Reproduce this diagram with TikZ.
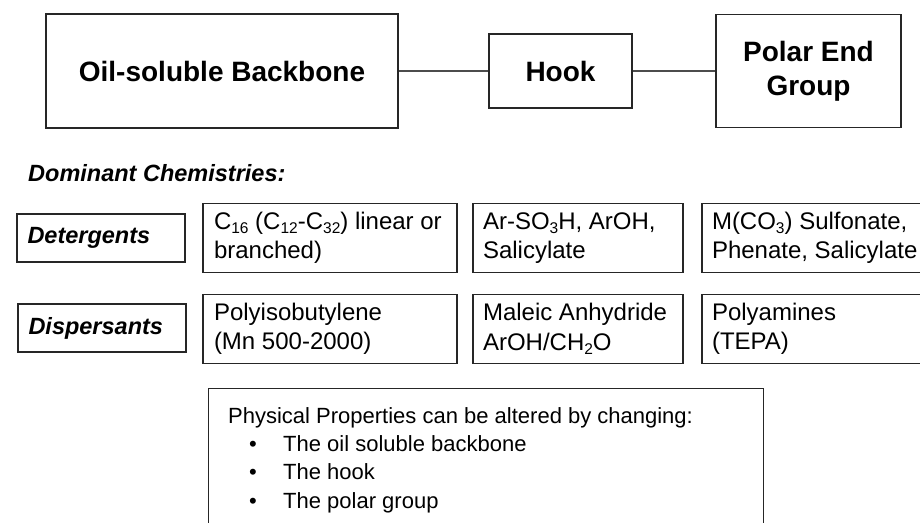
\documentclass[tikz,border=0pt]{standalone}
\usepackage{fontspec}
\setmainfont{Liberation Sans}
\newcommand{\chemsub}[1]{\raisebox{-4.5pt}{\fontsize{15.5}{15.5}\selectfont #1}}
\begin{document}
\begin{tikzpicture}[x=1pt,y=-1pt,
  ln/.style={draw=black!85, line width=1.4pt},
  conn/.style={draw=black!70, line width=1.4pt},
  titlebox/.style={ln, rectangle, inner sep=0pt, align=center, font={\fontsize{28}{34}\selectfont\bfseries}},
  rowlabel/.style={ln, rectangle, inner sep=0pt, minimum width=168pt, minimum height=48pt, text width=147pt, align=flush left, font={\fontsize{23.5}{28}\selectfont\bfseries\itshape}},
  chembox/.style={ln, rectangle, inner sep=0pt, minimum height=69pt, align=flush left, font={\fontsize{24}{29.5}\selectfont}}]
\useasboundingbox (0,0) rectangle (920,522);
\clip (0,0) rectangle (920,522);
\fill[white] (0,0) rectangle (920,522);

% top chain
\node[titlebox, minimum width=352pt, minimum height=114pt] (backbone) at (222,71) {Oil-soluble Backbone};
\node[titlebox, minimum width=143pt, minimum height=74pt] (hook) at (560.5,71) {Hook};
\node[titlebox, minimum width=185pt, minimum height=113pt] (polar) at (808.5,71) {Polar End\\Group};
\draw[conn] (backbone.east) -- (hook.west);
\draw[conn] (hook.east) -- (polar.west);

% heading
\node[anchor=west, inner sep=0pt, font={\fontsize{23.5}{28}\selectfont\bfseries\itshape}] (dom) at (28,173) {Dominant Chemistries:};

% row labels
\node[rowlabel] (det) at (101,238) {Detergents};
\node[rowlabel] (disp) at (102,328) {Dispersants};

% detergent chemistries
\node[chembox, minimum width=254pt, text width=232pt] (detA) at (330,238) {C\chemsub{16} (C\chemsub{12}-C\chemsub{32}) linear or\\branched)};
\node[chembox, minimum width=210pt, text width=190pt] (detB) at (578,238) {Ar-SO\chemsub{3}H, ArOH,\\Salicylate};
\node[chembox, minimum width=240pt, text width=220pt] (detC) at (822,238) {M(CO\chemsub{3}) Sulfonate,\\Phenate, Salicylate};

% dispersant chemistries
\node[chembox, minimum width=254pt, text width=232pt] (dispA) at (330,329) {Polyisobutylene\\(Mn 500-2000)};
\node[chembox, minimum width=210pt, text width=190pt] (dispB) at (578,329) {Maleic Anhydride\\ArOH/CH\chemsub{2}O};
\node[chembox, minimum width=240pt, text width=220pt] (dispC) at (822,329) {Polyamines\\(TEPA)};

% properties box
\node[ln, rectangle, inner sep=0pt, anchor=north west, minimum width=555pt, minimum height=170pt] (props) at (208,388) {};
\node[anchor=north west, inner sep=0pt, align=flush left, font={\fontsize{22}{28.3}\selectfont}] (proptext) at (228,407)
  {Physical Properties can be altered by changing:\\
   \makebox[55pt][l]{\hspace*{21pt}\textbullet}The oil soluble backbone\\
   \makebox[55pt][l]{\hspace*{21pt}\textbullet}The hook\\
   \makebox[55pt][l]{\hspace*{21pt}\textbullet}The polar group};
\end{tikzpicture}
\end{document}
